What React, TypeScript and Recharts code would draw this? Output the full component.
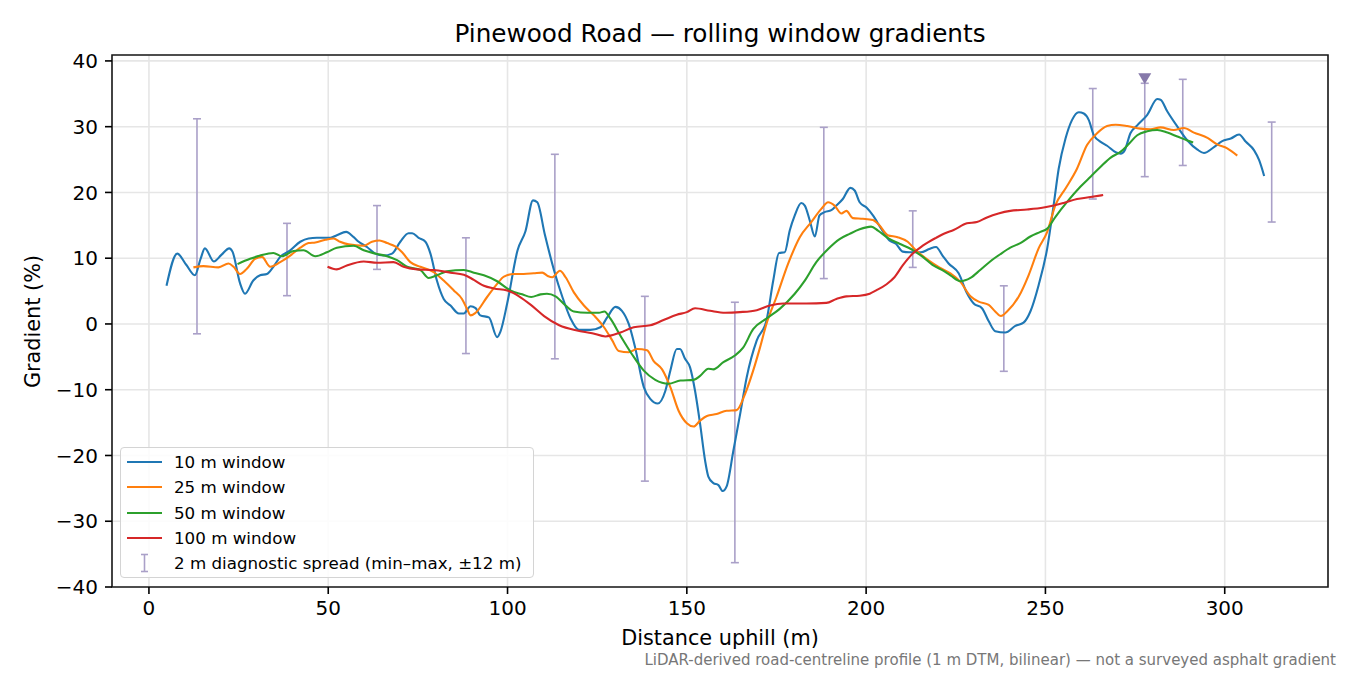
import React from "react";
import {
  ComposedChart,
  Line,
  Scatter,
  ErrorBar,
  XAxis,
  YAxis,
  CartesianGrid,
  ReferenceArea,
} from "recharts";

// distance (m), gradient (%)
const window10: [number, number][] = [
  [4.9, 5.8], [7.9, 10.7], [10.4, 9.0], [12.8, 7.4], [14.4, 9.9], [15.6, 11.5], [18.1, 9.5],
  [20.2, 10.5], [22.4, 11.5], [23.3, 11.0], [25.4, 6.2], [26.8, 4.6], [29.1, 6.6], [31, 7.4],
  [32.9, 7.6], [34.7, 8.7], [36.6, 10.2], [39.4, 11.2], [42.2, 12.5], [44.5, 13.0], [46.8, 13.1],
  [50.6, 13.1], [52.4, 13.5], [55, 14.0], [57.1, 13.2], [58.5, 12.5], [60.8, 11.7], [63.1, 10.7],
  [65.4, 10.4], [67.8, 10.7], [70.1, 12.5], [72.4, 13.8], [73.4, 13.8], [75.2, 13.1], [77.1, 12.5],
  [78.5, 10.7], [80.3, 6.6], [82.2, 3.8], [84.1, 2.8], [86.4, 1.6], [87.8, 1.6], [89.7, 2.7],
  [91.1, 2.4], [92.4, 1.3], [94.8, 1.0], [97.1, -2.0], [98, -1.2], [99.9, 3.1], [102.8, 11.2],
  [105, 14.1], [107.1, 18.8], [108.3, 18.5], [110.4, 13.6], [113, 8.1], [115.3, 4.1], [117.6, 0.8],
  [119.9, -0.9], [123.1, -0.9], [125.9, -0.5], [127.8, 1.0], [130.1, 2.6], [131.9, 2.0], [133.8, 0],
  [135.6, -3.6], [138, -9.6], [139.8, -11.4], [141.9, -12.1], [144, -10.2], [145.4, -7.1],
  [147.2, -3.8], [148.1, -3.8], [149.5, -5.3], [150.9, -6.6], [152.3, -10.2], [153.7, -15.2],
  [155.1, -20.8], [156, -23.2], [157.4, -24.2], [158.8, -24.5], [160, -25.4], [161.1, -24.7],
  [163, -19.2], [164.9, -13.6], [166.7, -8.1], [169.5, -2.5], [172.2, 0.5], [174.1, 6.6],
  [175.7, 10.8], [177.3, 10.9], [178.7, 14.2], [180.1, 16.5], [181.9, 18.4], [182.9, 18.0],
  [184.3, 15.7], [185.7, 13.3], [187, 16.5], [188.4, 17.0], [190.3, 17.3], [191.7, 18.0],
  [193.5, 19.0], [195.6, 20.7], [196.8, 20.3], [198.2, 18.5], [200.1, 17.7], [201.9, 16.5],
  [204.2, 14.5], [206.5, 12.7], [208.3, 12.2], [210.2, 11.0], [212, 10.9], [215.3, 10.9],
  [217.6, 11.4], [219.5, 11.7], [221.3, 10.4], [223, 9.2], [225.8, 7.7], [228.1, 4.7], [230, 3.1],
  [232.3, 2.4], [234.2, 0.4], [236, -1.1], [238.8, -1.3], [241.6, -0.3], [243.9, 0.2], [245.8, 1.9],
  [248.1, 5.9], [250.5, 11.5], [252.3, 18.1], [253.7, 23.6], [255.6, 28.2], [257.4, 31.0],
  [259.3, 32.2], [260.7, 32.0], [262.1, 31.0], [263.5, 28.7], [265.4, 27.7], [267.2, 27.1],
  [269.6, 26.1], [271, 25.9], [272.1, 26.4], [273.7, 29.0], [275.6, 30.2], [278.4, 31.8],
  [281.2, 34.2], [282.1, 34.1], [284, 32.3], [286.8, 30.0], [289.6, 27.9], [292.4, 26.5],
  [294.2, 26.0], [297, 26.9], [299.3, 27.8], [301.7, 28.2], [304, 28.8], [305.9, 27.7],
  [308.2, 26.4], [309.6, 24.9], [311, 22.5],
];

const window25: [number, number][] = [
  [12.4, 8.6], [15.2, 8.8], [19.4, 8.6], [22.2, 9.2], [23.6, 8.7], [25.4, 7.6], [27.3, 8.4],
  [29.6, 9.9], [31.5, 10.2], [33.8, 8.7], [36.6, 9.4], [39.4, 10.4], [42.2, 11.6], [44.5, 12.3],
  [46.4, 12.4], [49.2, 12.8], [51.5, 13.0], [53.3, 12.5], [55.7, 12.1], [59.9, 11.9], [62.2, 12.5],
  [64.3, 12.7], [66.4, 12.3], [68.7, 11.8], [70.6, 10.9], [72.9, 9.4], [75.7, 8.7], [79.4, 7.9],
  [82.2, 6.6], [85, 5.1], [87.3, 3.8], [88.7, 2.3], [89.7, 1.3], [91.1, 1.7], [94.3, 4.1],
  [97.1, 6.1], [99, 7.2], [101.8, 7.6], [104.5, 7.6], [107.3, 7.7], [109.7, 7.8], [111.2, 7.3],
  [112.5, 7.1], [114.6, 8.1], [116.2, 7.1], [118.5, 4.8], [121.3, 2.8], [124.1, 1.3],
  [126.9, -0.5], [129.2, -2.5], [131, -4.1], [133.8, -4.3], [136.1, -3.8], [138.9, -4.0],
  [140.7, -5.6], [143.1, -6.9], [145.4, -9.6], [147.7, -13.2], [150, -15.1], [151.9, -15.6],
  [153.7, -14.7], [155.6, -14.0], [158.3, -13.7], [161.1, -13.2], [163.9, -13.1], [166.2, -10.7],
  [168.5, -7.1], [170.4, -3.6], [172.2, 0], [175, 4.1], [178.2, 9.1], [181.5, 13.2], [184.7, 15.5],
  [187.5, 17.5], [189.4, 18.5], [191.2, 18.0], [193.1, 16.8], [194.5, 17.2], [196.3, 16.1],
  [199.1, 16.0], [201.9, 15.8], [203.7, 15.0], [206, 13.5], [208.8, 13.2], [211.6, 12.5],
  [213.9, 11.2], [217.6, 9.6], [220.4, 8.6], [223.5, 7.7], [226.3, 6.4], [229.1, 4.2], [231.4, 3.4],
  [234.2, 2.9], [236, 1.9], [237.6, 1.2], [239.3, 1.9], [242.6, 4.2], [245.3, 7.4], [248.1, 11.5],
  [250.5, 14.0], [252.8, 18.1], [255.6, 20.6], [258.8, 23.6], [261.6, 27.2], [264.4, 29.0],
  [267.2, 30.1], [269.6, 30.3], [272.8, 30.1], [276.5, 29.7], [279.3, 29.6], [282.1, 29.9],
  [285.8, 29.5], [288.6, 29.8], [291.4, 29.1], [295.2, 28.3], [297.9, 27.3], [300.7, 26.7],
  [303.5, 25.6],
];

const window50: [number, number][] = [
  [24.7, 9.1], [28.2, 9.9], [31, 10.4], [34.7, 10.8], [37.1, 10.3], [40.3, 11.1], [43.1, 11.2],
  [46.4, 10.3], [49.6, 10.9], [52.4, 11.6], [57.1, 11.9], [59.9, 11.2], [63.1, 10.7], [66.4, 10.3],
  [69.2, 9.7], [72, 8.7], [75.7, 8.2], [78, 7.0], [80.3, 7.4], [83.1, 8.0], [87.8, 8.2], [90.6, 7.8],
  [93.4, 7.4], [97.1, 6.5], [100.8, 5.1], [104.1, 4.5], [106.6, 4.1], [109.2, 4.5], [111, 4.6],
  [113.4, 4.2], [116.2, 2.8], [118.5, 1.9], [122.2, 1.7], [125.5, 1.7], [127, 1.9], [128.7, 0.8],
  [131.5, -1.8], [134.7, -4.6], [138, -7.1], [141.2, -8.5], [144.9, -9.1], [148.2, -8.6],
  [151.9, -8.5], [153.7, -7.9], [156, -6.8], [157.4, -6.9], [160.2, -5.8], [163.4, -4.8],
  [165.7, -3.6], [168.5, -0.8], [172.2, 0.8], [175.9, 2.3], [180.1, 4.6], [182.9, 6.6],
  [186.1, 9.4], [189.4, 11.4], [192.6, 12.9], [195.4, 13.7], [198.2, 14.4], [201.4, 14.8],
  [203.3, 14.2], [206, 13.1], [209.3, 12.2], [212.5, 11.4], [215.8, 10.2], [218.5, 9.0],
  [221.5, 8.1], [223.5, 7.4], [226.3, 6.5], [229.1, 7.0], [231.8, 8.2], [234.6, 9.5], [237.4, 10.6],
  [240.2, 11.6], [243, 12.3], [245.8, 13.3], [248.6, 14.0], [250.5, 14.5], [252.8, 16.3],
  [256.1, 18.6], [259.8, 20.9], [262.6, 22.4], [265.4, 23.9], [268.2, 25.3], [271, 26.2],
  [273.3, 27.4], [275.6, 28.7], [278.4, 29.3], [281.2, 29.5], [284, 29.1], [286.8, 28.5],
  [289.6, 27.9], [291.2, 27.6],
];

const window100: [number, number][] = [
  [49.8, 8.7], [52.4, 8.3], [55.2, 8.9], [59.9, 9.5], [63.6, 9.3], [68.2, 9.4], [71, 8.7],
  [74.8, 8.3], [79.4, 8.2], [84.1, 7.8], [87.8, 7.5], [90.6, 6.7], [93.4, 5.8], [96.2, 5.4],
  [99.9, 5.1], [103.2, 4.2], [106.5, 2.9], [110.2, 1.2], [114.4, -0.2], [119.4, -1.0],
  [123.6, -1.4], [127.3, -1.9], [131.5, -1.3], [135.2, -0.5], [139.8, -0.2], [143.5, 0.6],
  [147.2, 1.4], [150, 1.8], [152.3, 2.4], [156.5, 2.0], [160.7, 1.7], [164.8, 1.8], [169.5, 2.1],
  [173.2, 2.8], [176.9, 3.1], [183.3, 3.1], [188.9, 3.2], [191.7, 3.8], [194.5, 4.2], [198.2, 4.3],
  [201, 4.6], [202.8, 5.1], [205.6, 6.0], [207.9, 7.1], [210.2, 8.9], [213, 10.7], [215.8, 11.9],
  [219.5, 13.1], [222, 13.8], [224.4, 14.3], [228.1, 15.3], [230.9, 15.5], [233.7, 16.2],
  [236.9, 16.8], [240.2, 17.2], [244.9, 17.4], [249.5, 17.7], [252.3, 18.0], [255.1, 18.4],
  [258.8, 19.0], [262.6, 19.3], [266.1, 19.6],
];

// 2 m diagnostic spread (min / max within ±12 m)
const spreadX = [13.4, 38.5, 63.6, 88.4, 113.2, 138.3, 163.4, 188.2, 213.0, 238.4, 263.2, 277.7, 288.3, 313.1];
const spreadLow = [-1.5, 4.3, 8.3, -4.5, -5.3, -23.9, -36.3, 6.9, 8.6, -7.2, 19.0, 22.4, 24.1, 15.5];
const spreadHigh = [31.2, 15.3, 18.0, 13.1, 25.8, 4.2, 3.3, 29.9, 17.2, 5.8, 35.8, 36.6, 37.2, 30.7];

const peakMarker = [{ x: 277.7, y: 37.3 }];

const xTicks = [0, 50, 100, 150, 200, 250, 300];
const yTicks = [-40, -30, -20, -10, 0, 10, 20, 30, 40];

const X_MIN = -10.3;
const X_MAX = 328.8;
const Y_MIN = -40;
const Y_MAX = 40.9;

const FONT = "'DejaVu Sans', sans-serif";
const SPREAD_COLOR = "#aaa0c8";

const series = [
  { name: "10 m window", points: window10, color: "#1f77b4" },
  { name: "25 m window", points: window25, color: "#ff7f0e" },
  { name: "50 m window", points: window50, color: "#2ca02c" },
  { name: "100 m window", points: window100, color: "#d62728" },
];

const toPoints = (pairs: [number, number][]) => pairs.map(([x, y]) => ({ x, y }));

const spreadData = spreadX.map((x, i) => ({
  x,
  y: (spreadLow[i] + spreadHigh[i]) / 2,
  err: (spreadHigh[i] - spreadLow[i]) / 2,
}));

const fmtY = (v: number) => (v < 0 ? `\u2212${Math.abs(v)}` : `${v}`);

function Triangle(props: any) {
  const { cx, cy } = props;
  if (cx == null || cy == null) return <g />;
  return (
    <polygon
      points={`${cx - 6.5},${cy - 5.5} ${cx + 6.5},${cy - 5.5} ${cx},${cy + 5.5}`}
      fill="#8679aa"
    />
  );
}

function ChartLegend() {
  const rowTop = [14, 39.3, 64.7, 90, 115.3];
  return (
    <div
      style={{
        position: "absolute",
        left: 120,
        top: 447,
        width: 414,
        height: 131,
        border: "1.5px solid #d4d4d4",
        borderRadius: 4,
        background: "rgba(255,255,255,0.85)",
        fontFamily: FONT,
        fontSize: 16.7,
        color: "#000",
        boxSizing: "border-box",
      }}
    >
      {series.map((s, i) => (
        <div key={s.name} style={{ position: "absolute", left: 0, top: rowTop[i] - 12, height: 24, width: 410 }}>
          <svg width={50} height={24} style={{ position: "absolute", left: 0, top: 0 }}>
            <line x1={6} x2={41} y1={12} y2={12} stroke={s.color} strokeWidth={2.1} />
          </svg>
          <span style={{ position: "absolute", left: 53, top: 0, lineHeight: "24px", whiteSpace: "nowrap" }}>
            {s.name}
          </span>
        </div>
      ))}
      <div style={{ position: "absolute", left: 0, top: rowTop[4] - 12, height: 24, width: 410 }}>
        <svg width={50} height={24} style={{ position: "absolute", left: 0, top: 0 }}>
          <line x1={23.5} x2={23.5} y1={3.5} y2={20.5} stroke={SPREAD_COLOR} strokeWidth={1.6} />
          <line x1={20} x2={27} y1={3.5} y2={3.5} stroke={SPREAD_COLOR} strokeWidth={1.6} />
          <line x1={20} x2={27} y1={20.5} y2={20.5} stroke={SPREAD_COLOR} strokeWidth={1.6} />
        </svg>
        <span style={{ position: "absolute", left: 53, top: 0, lineHeight: "24px", whiteSpace: "nowrap" }}>
          2 m diagnostic spread (min–max, ±12 m)
        </span>
      </div>
    </div>
  );
}

export default function App() {
  return (
    <div
      style={{
        position: "absolute",
        left: 0,
        top: 0,
        width: 1350,
        height: 675,
        background: "#fff",
        fontFamily: FONT,
      }}
    >
      <ComposedChart width={1350} height={675} margin={{ top: 55, right: 22, bottom: 48, left: 52 }}>
        <CartesianGrid stroke="#e6e6e6" strokeWidth={1.6} />
        <XAxis
          type="number"
          dataKey="x"
          domain={[X_MIN, X_MAX]}
          ticks={xTicks}
          interval={0}
          allowDataOverflow
          height={40}
          axisLine={false}
          tickLine={{ stroke: "#000", strokeWidth: 1.6 }}
          tickSize={7}
          tickMargin={7}
          tick={{ fontSize: 20, fill: "#000", fontFamily: FONT }}
        />
        <YAxis
          type="number"
          domain={[Y_MIN, Y_MAX]}
          ticks={yTicks}
          interval={0}
          allowDataOverflow
          width={60}
          axisLine={false}
          tickLine={{ stroke: "#000", strokeWidth: 1.6 }}
          tickSize={7}
          tickMargin={7}
          tickFormatter={fmtY}
          tick={{ fontSize: 20, fill: "#000", fontFamily: FONT }}
        />
        <ReferenceArea
          x1={X_MIN}
          x2={X_MAX}
          y1={Y_MIN}
          y2={Y_MAX}
          fill="none"
          stroke="#1a1a1a"
          strokeWidth={1.6}
          ifOverflow="visible"
        />
        <Scatter data={spreadData} dataKey="y" shape={() => <g />} isAnimationActive={false}>
          <ErrorBar
            dataKey="err"
            direction="y"
            width={4}
            stroke={SPREAD_COLOR}
            strokeWidth={1.6}
            isAnimationActive={false}
          />
        </Scatter>
        {series.map((s) => (
          <Line
            key={s.name}
            data={toPoints(s.points)}
            dataKey="y"
            type="monotone"
            stroke={s.color}
            strokeWidth={2.1}
            dot={false}
            activeDot={false}
            isAnimationActive={false}
          />
        ))}
        <Scatter data={peakMarker} dataKey="y" shape={Triangle} isAnimationActive={false} />
      </ComposedChart>

      <div
        style={{
          position: "absolute",
          left: 0,
          top: 20.5,
          width: 1440,
          textAlign: "center",
          fontSize: 24.7,
          lineHeight: "25px",
          color: "#000",
        }}
      >
        Pinewood Road — rolling window gradients
      </div>
      <div
        style={{
          position: "absolute",
          left: 0,
          top: 627.5,
          width: 1440,
          textAlign: "center",
          fontSize: 20.8,
          lineHeight: "21px",
          color: "#000",
        }}
      >
        Distance uphill (m)
      </div>
      <div
        style={{
          position: "absolute",
          left: 33 - 150,
          top: 321 - 10.5,
          width: 300,
          textAlign: "center",
          fontSize: 20.8,
          lineHeight: "21px",
          color: "#000",
          transform: "rotate(-90deg)",
          transformOrigin: "150px 10.5px",
        }}
      >
        Gradient (%)
      </div>
      <div
        style={{
          position: "absolute",
          left: 0,
          top: 652.5,
          width: 1336,
          textAlign: "right",
          fontSize: 15,
          lineHeight: "15px",
          color: "#777",
          whiteSpace: "nowrap",
        }}
      >
        LiDAR-derived road-centreline profile (1 m DTM, bilinear) — not a surveyed asphalt gradient
      </div>
      <ChartLegend />
    </div>
  );
}
